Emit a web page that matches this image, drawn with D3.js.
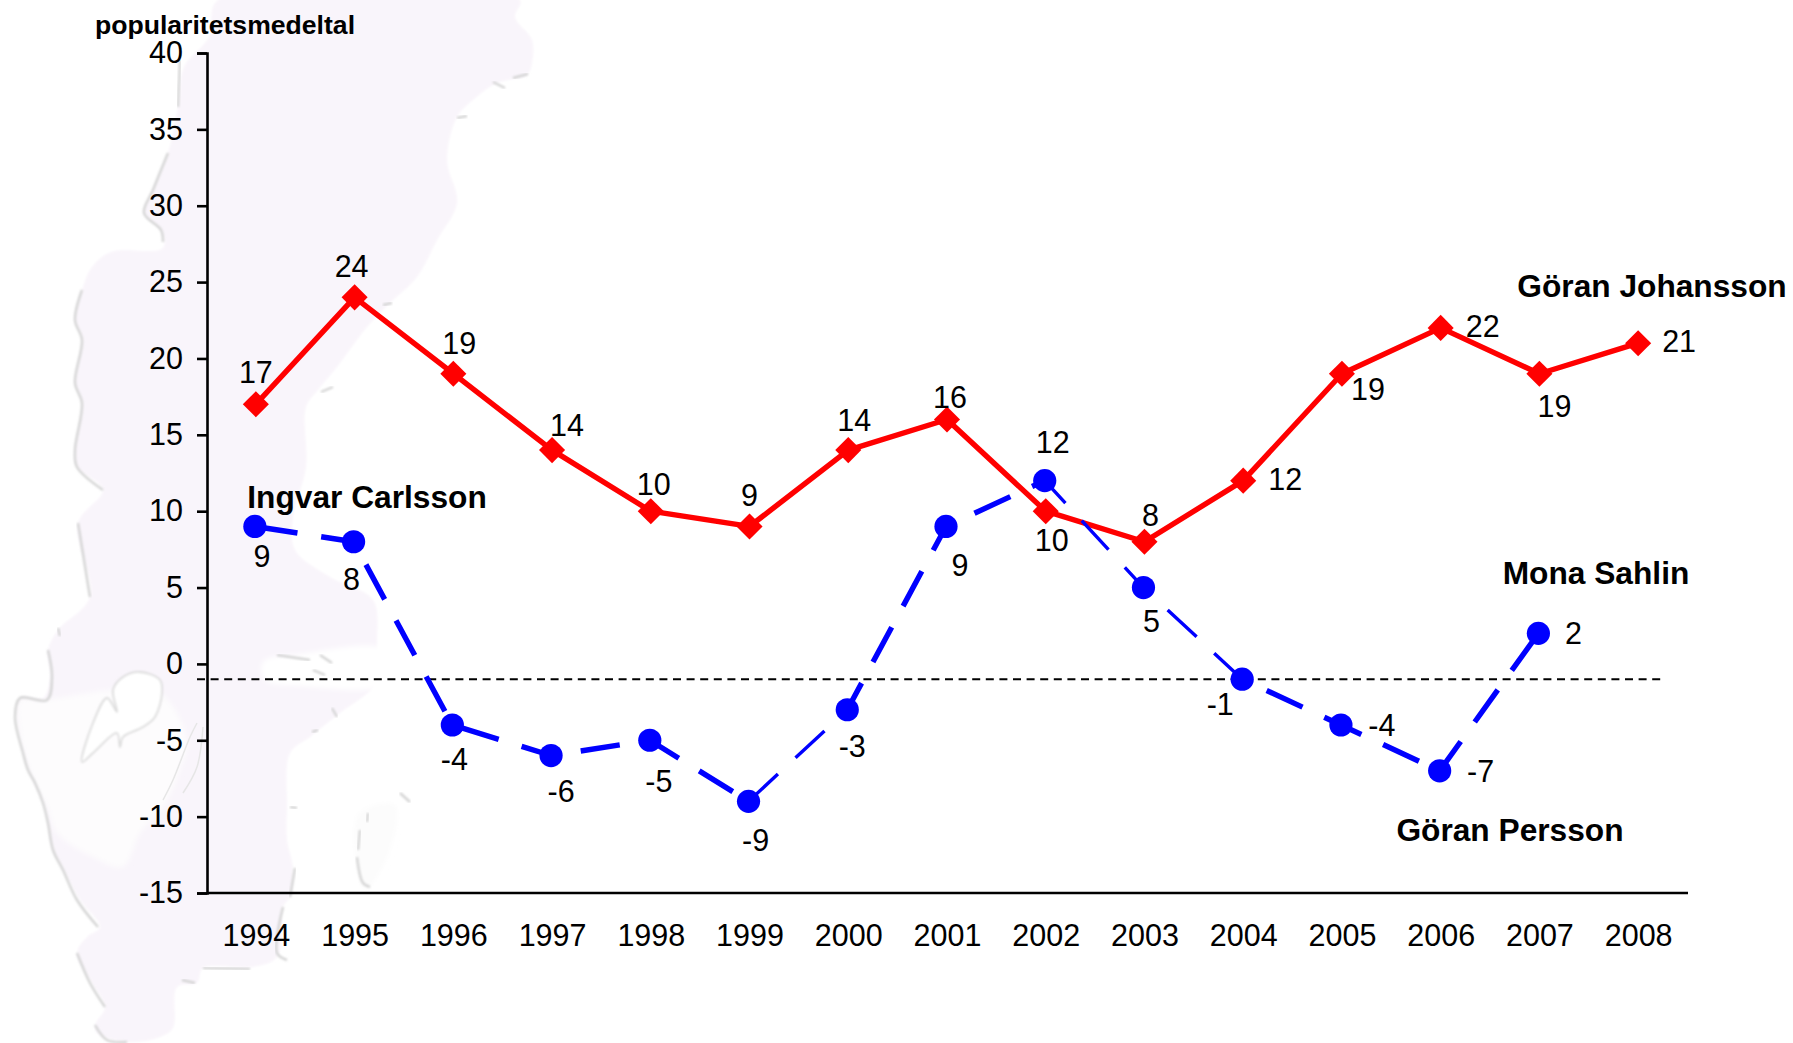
<!DOCTYPE html>
<html>
<head>
<meta charset="utf-8">
<script src="https://cdn.jsdelivr.net/npm/d3@7"></script>
<style>
  html, body { margin: 0; background: #fff; }
  text { font-family: "Liberation Sans", Arial, sans-serif; fill: #000; }
  .name { font-weight: bold; font-size: 31.7px; }
</style>
</head>
<body>
<svg id="main" width="1793" height="1043"></svg>
<script>
// CHART VALUES
const years = [1994, 1995, 1996, 1997, 1998, 1999, 2000, 2001, 2002, 2003, 2004, 2005, 2006, 2007, 2008];
const johansson = [17, 24, 19, 14, 10, 9, 14, 16, 10, 8, 12, 19, 22, 19, 21];
const leaders = [9, 8, -4, -6, -5, -9, -3, 9, 12, 5, -1, -4, -7, 2];
const yTicks = [40, 35, 30, 25, 20, 15, 10, 5, 0, -5, -10, -15];
const averageLine = -1;

// LABEL OFFSETS (px from the marker), same order as the series
const johanssonOffsets = [[0, -32], [-3, -31], [6, -31], [15, -25], [3, -27], [0, -31], [6, -30], [3, -23], [6, 29], [6, -27], [42, -2], [26, 15], [42, -2], [15, 32], [41, -2]];
const leaderOffsets = [[7, 30], [-2, 37], [2, 34], [10, 35], [9, 41], [7, 39], [5, 36], [14, 39], [8, -39], [8, 33], [-22, 25], [41, 0], [41, 0], [35, 0]];
// segments the original drew with a thinner pen
const thinSegments = [5, 8, 9];
// where the first dash of each blue segment starts, px from its left marker
const dashStarts = [3.6, 26, 9, 30, -5.4, 0.6, -9.3, 31.4, -9, 33, 27, -17, -3.4];

const svg = d3.select('#main');

// BACKGROUND MAP
const mapOutline = [[218,0],[520,0],[515,17],[532,40],[532,63],[527,75],[497,83],[473,100],[457,117],[447,160],[457,203],[437,240],[417,277],[390,303],[367,327],[337,367],[318,390],[306,407],[306,467],[293,517],[295,550],[330,577],[373,600],[377,643],[376,670],[373,687],[340,713],[310,737],[290,753],[287,807],[287,840],[293,868],[290,897],[283,907],[277,957],[253,967],[203,968],[197,983],[177,987],[173,1028],[160,1037],[127,1042],[97,1033],[95,1025],[105,1007],[92,983],[77,953],[87,937],[100,927],[80,900],[62,867],[52,847],[45,807],[35,783],[28,767],[17,717],[20,698],[43,698],[50,677],[48,650],[58,630],[90,597],[78,523],[103,490],[77,467],[75,450],[82,403],[75,383],[82,340],[75,320],[82,290],[92,267],[111,252],[163,248],[161,230],[144,213],[153,190],[168,153],[178,107],[184,67],[209,37]];
const mapInterior = [[20,700],[43,700],[113,690],[160,693],[187,740],[180,770],[163,807],[140,833],[123,867],[93,857],[57,833],[47,807],[33,780],[20,733]];
const mapLake = [[113,690],[123,677],[140,672],[160,680],[162,693],[155,717],[143,727],[123,737],[120,747],[117,733],[93,753],[82,762],[93,723],[107,698],[117,712]];
const mapBay = [[263,662],[300,654],[385,650],[385,684],[300,686],[265,680]];
const mapIsland = [[358,815],[395,805],[390,850],[365,890]];
const mapCoast = [
  [[180,60],[178,107]],
  [[168,153],[153,190],[144,213],[161,230],[163,242]],
  [[82,290],[75,320],[82,340],[75,383],[82,403],[75,450],[77,467],[103,490]],
  [[78,523],[90,597]],
  [[58,628],[60,636]],
  [[48,650],[52,677],[47,700],[20,698],[15,717],[23,753],[28,770],[35,783],[43,803],[48,823],[53,850],[63,870],[77,900],[98,927]],
  [[77,953],[90,983],[105,1007]],
  [[95,1025],[107,1040],[127,1042]],
  [[137,1037],[160,1037]],
  [[203,968],[250,969]],
  [[182,980],[195,983]],
  [[295,868],[290,897]],
  [[283,907],[277,953],[287,960]],
  [[360,830],[358,850]],
  [[357,857],[363,883],[370,887]],
  [[368,813],[367,822]],
  [[400,793],[410,802]],
  [[290,807],[297,808]],
  [[513,78],[528,74]],
  [[493,82],[505,88]],
  [[457,118],[467,116]],
  [[403,283],[417,283]],
  [[383,305],[392,303]],
  [[321,392],[333,387]],
  [[304,472],[312,472]],
  [[277,655],[310,660]],
  [[320,655],[332,663]],
  [[313,670],[325,675]],
  [[335,672],[347,672]],
  [[332,708],[337,717]],
  [[312,732],[318,730]]
];
const mapStraits = [
  [[203,727],[197,767],[183,793]],
  [[197,723],[190,737],[173,780],[163,800]]
];
const smooth = d3.line().curve(d3.curveCatmullRom);
const closed = d3.line().curve(d3.curveCatmullRomClosed);

const defs = svg.append('defs');
defs.append('filter').attr('id', 'soft').append('feGaussianBlur').attr('stdDeviation', 0.8);
defs.append('filter').attr('id', 'softer').append('feGaussianBlur').attr('stdDeviation', 2.5);

const map = svg.append('g');
map.append('path').attr('d', closed(mapOutline)).attr('fill', '#f9f5fb').attr('filter', 'url(#soft)');
map.append('path').attr('d', closed(mapInterior)).attr('fill', '#fdfcfd').attr('filter', 'url(#softer)');
map.append('path').attr('d', closed(mapBay)).attr('fill', '#ffffff').attr('filter', 'url(#softer)');
map.append('path').attr('d', closed(mapIsland)).attr('fill', '#fcfcfc').attr('filter', 'url(#softer)');
map.append('path').attr('d', closed(mapLake)).attr('fill', '#ffffff');
map.selectAll('path.strait')
  .data(mapStraits)
  .join('path')
  .attr('class', 'strait')
  .attr('d', smooth)
  .attr('fill', 'none')
  .attr('stroke', '#e6e6e6')
  .attr('stroke-width', 1.5);
map.append('path')
  .attr('d', closed(mapLake))
  .attr('fill', 'none')
  .attr('stroke', '#dcdcdc')
  .attr('stroke-width', 1.8)
  .attr('filter', 'url(#soft)');
map.selectAll('path.coast')
  .data(mapCoast)
  .join('path')
  .attr('class', 'coast')
  .attr('d', smooth)
  .attr('fill', 'none')
  .attr('stroke', '#d4d4d4')
  .attr('stroke-width', 2.4)
  .attr('filter', 'url(#soft)');

// SCALES
const x = d3.scalePoint().domain(years).range([206.5, 1687.5]).padding(0.5);
const y = d3.scaleLinear().domain([-15, 40]).range([893, 53]);

// AXES
const yAxis = svg.append('g')
  .attr('transform', 'translate(207,0)')
  .call(d3.axisLeft(y).tickValues(yTicks).tickSize(10).tickPadding(14).tickFormat(String));
const xAxis = svg.append('g')
  .attr('transform', 'translate(0,893)')
  .call(d3.axisBottom(x).tickSize(0).tickPadding(31));
xAxis.select('.domain').attr('d', 'M207,0H1688');
[yAxis, xAxis].forEach((axis) => {
  axis.selectAll('.domain').attr('stroke', '#000').attr('stroke-width', 2.6);
  axis.selectAll('.tick line').attr('stroke', '#000').attr('stroke-width', 2.6);
  axis.selectAll('text').style('font-size', '30.5px').style('font-family', '"Liberation Sans"').attr('fill', '#000');
});

// AVERAGE LINE
svg.append('line')
  .attr('x1', 197).attr('x2', 1661)
  .attr('y1', y(averageLine)).attr('y2', y(averageLine))
  .attr('stroke', '#000').attr('stroke-width', 2)
  .attr('stroke-dasharray', '8 5.6');

// RED SERIES
const redColor = '#ff0000';
const blueColor = '#0000ff';
const linePath = d3.line().x((d) => x(d.year)).y((d) => y(d.value));
const redData = years.map((year, i) => ({ year, value: johansson[i], offset: johanssonOffsets[i] }));
const blueData = leaders.map((value, i) => ({ year: years[i], value, offset: leaderOffsets[i] }));

svg.append('path')
  .datum(redData)
  .attr('d', linePath)
  .attr('fill', 'none')
  .attr('stroke', redColor)
  .attr('stroke-width', 5.4)
  .attr('stroke-linejoin', 'round');

// BLUE SERIES: dashes restart per segment, pen width per segment
const blueX = (d) => x(d.year) - 1;
const blueSegments = d3.pairs(blueData).map(([a, b], i) => ({
  a,
  b,
  start: dashStarts[i],
  thin: thinSegments.includes(i)
}));
svg.selectAll('line.blue')
  .data(blueSegments)
  .join('line')
  .attr('class', 'blue')
  .attr('x1', (d) => blueX(d.a)).attr('y1', (d) => y(d.a.value))
  .attr('x2', (d) => blueX(d.b)).attr('y2', (d) => y(d.b.value))
  .attr('stroke', blueColor)
  .attr('stroke-width', (d) => (d.thin ? 3.4 : 5.4))
  .attr('stroke-dasharray', '39.5 24')
  .attr('stroke-dashoffset', (d) => -d.start);

svg.selectAll('path.red-mark')
  .data(redData)
  .join('path')
  .attr('class', 'red-mark')
  .attr('d', d3.symbol(d3.symbolSquare, 340))
  .attr('fill', redColor)
  .attr('transform', (d) => `translate(${x(d.year)},${y(d.value)}) rotate(45)`);

svg.selectAll('circle.blue-mark')
  .data(blueData)
  .join('circle')
  .attr('class', 'blue-mark')
  .attr('cx', blueX)
  .attr('cy', (d) => y(d.value))
  .attr('r', 11.6)
  .attr('fill', blueColor);

// VALUE LABELS
function drawValues(cls, data, xPos) {
  svg.selectAll('text.' + cls)
    .data(data)
    .join('text')
    .attr('class', cls)
    .attr('x', (d) => xPos(d) + d.offset[0])
    .attr('y', (d) => y(d.value) + d.offset[1])
    .attr('text-anchor', 'middle')
    .attr('dominant-baseline', 'central')
    .style('font-size', '30.5px')
    .text((d) => d.value);
}
drawValues('red-value', redData, (d) => x(d.year));
drawValues('blue-value', blueData, blueX);

// NAMES
const nameLabels = [
  { text: 'Göran Johansson', cx: 1652, cy: 286 },
  { text: 'Ingvar Carlsson', cx: 367, cy: 497 },
  { text: 'Mona Sahlin', cx: 1596, cy: 573 },
  { text: 'Göran Persson', cx: 1510, cy: 830 }
];
svg.selectAll('text.name')
  .data(nameLabels)
  .join('text')
  .attr('class', 'name')
  .attr('x', (d) => d.cx)
  .attr('y', (d) => d.cy)
  .attr('text-anchor', 'middle')
  .attr('dominant-baseline', 'central')
  .text((d) => d.text);

svg.append('text')
  .attr('x', 225)
  .attr('y', 25)
  .attr('text-anchor', 'middle')
  .attr('dominant-baseline', 'central')
  .style('font-size', '26.6px')
  .style('font-weight', 'bold')
  .text('popularitetsmedeltal');
</script>
</body>
</html>
